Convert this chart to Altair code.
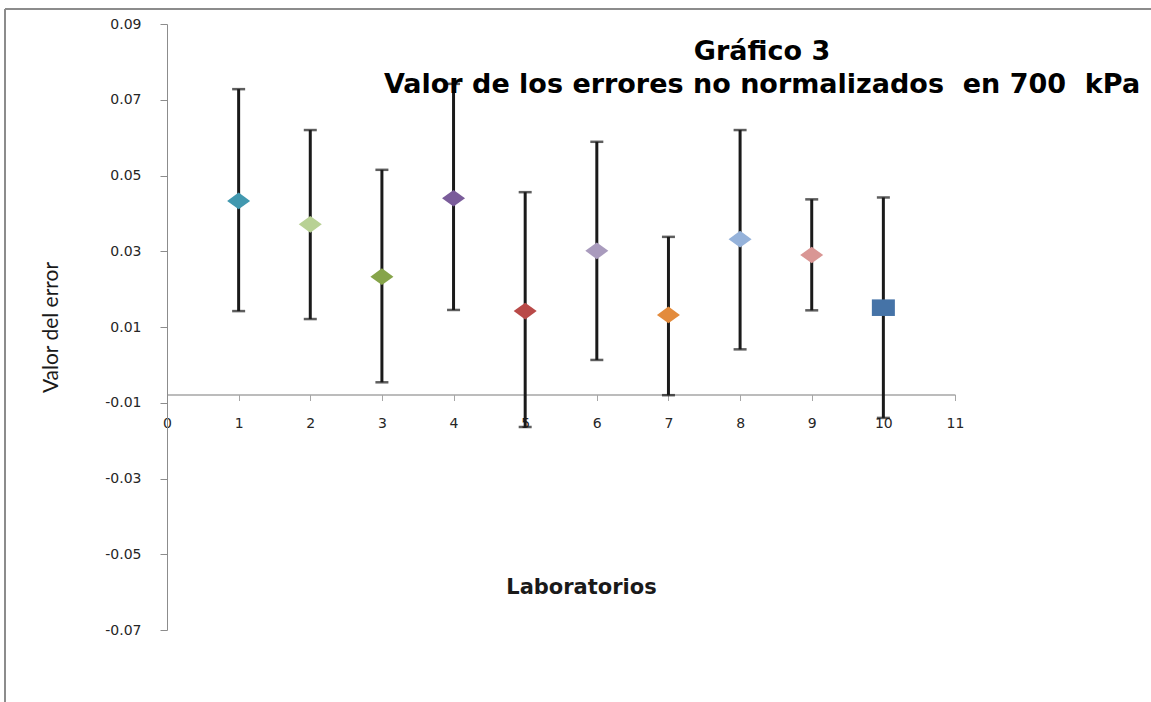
import altair as alt
import pandas as pd

laboratorios = [1, 2, 3, 4, 5, 6, 7, 8, 9, 10]
valores = [0.0433, 0.0371, 0.0233, 0.0440, 0.0142, 0.0301, 0.0132, 0.0332, 0.0290, 0.0151]
limite_sup = [0.0728, 0.0620, 0.0515, 0.0742, 0.0456, 0.0589, 0.0338, 0.0620, 0.0437, 0.0442]
limite_inf = [0.0142, 0.0121, -0.0046, 0.0145, -0.0164, 0.0013, -0.0080, 0.0041, 0.0144, -0.0140]
colores = ["#4198AF", "#B8D194", "#86A44A", "#7A5C9A", "#B94A48",
           "#A99BBD", "#E38B3C", "#95B2DA", "#D99694", "#4573A7"]
formas = ["rombo"] * 9 + ["cuadro"]

x_ticks = list(range(0, 12))
y_ticks = [-0.07, -0.05, -0.03, -0.01, 0.01, 0.03, 0.05, 0.07, 0.09]

titulo_1 = "Gráfico 3"
titulo_2 = "Valor de los errores no normalizados\u00a0 en 700\u00a0 kPa"
titulo_x = "Laboratorios"
titulo_y = "Valor del error"

df = pd.DataFrame({
    "lab": laboratorios,
    "labstr": [str(v) for v in laboratorios],
    "valor": valores,
    "sup": limite_sup,
    "inf": limite_inf,
    "forma": formas,
})

W, H = 788, 606
LEFT, TOP = 167, 24

xscale = alt.Scale(domain=[0, 11], nice=False, zero=False)
yscale = alt.Scale(domain=[-0.07, 0.09], nice=False, zero=False)

x_axis = alt.Axis(
    values=x_ticks, offset=-235.5, grid=False, labelFlush=False,
    domainColor="#a6a6a6", domainWidth=1.5, tickColor="#a6a6a6", tickSize=6,
    labelFont="DejaVu Sans", labelFontSize=14, labelColor="#262626", labelPadding=16,
    title=titulo_x, titleFont="DejaVu Sans", titleFontSize=21, titleFontWeight="bold",
    titleColor="#1a1a1a", titleX=414, titleY=193, titleBaseline="middle", titleAlign="center",
)
y_axis = alt.Axis(
    values=y_ticks, grid=False, labelFlush=False,
    domainColor="#8c8c8c", domainWidth=1, tickColor="#8c8c8c", tickSize=7,
    labelFont="DejaVu Sans", labelFontSize=14, labelColor="#262626", labelPadding=19,
    labelExpr="(datum.value < 0 ? '-' : '') + format(abs(datum.value), '.2f')",
    title=titulo_y, titleFont="Lato", titleFontSize=21, titleFontWeight="normal",
    titleColor="#1a1a1a", titleX=-116, titleY=303, titleAngle=-90,
    titleAlign="center", titleBaseline="middle",
)

base = alt.Chart(df)
X = alt.X("lab:Q", scale=xscale, axis=x_axis)

barras = base.mark_rule(color="#1a1a1a", strokeWidth=3).encode(
    x=X,
    y=alt.Y("inf:Q", scale=yscale, axis=y_axis),
    y2="sup:Q",
)
cap_sup = base.mark_tick(color="#1a1a1a", thickness=2.5, size=13, orient="horizontal").encode(
    x=X, y=alt.Y("sup:Q", scale=yscale, axis=y_axis),
)
cap_inf = base.mark_tick(color="#1a1a1a", thickness=2.5, size=13, orient="horizontal").encode(
    x=X, y=alt.Y("inf:Q", scale=yscale, axis=y_axis),
)
puntos = base.mark_point(filled=True, opacity=1, strokeWidth=0).encode(
    x=X,
    y=alt.Y("valor:Q", scale=yscale, axis=y_axis),
    color=alt.Color("labstr:N", scale=alt.Scale(domain=[str(v) for v in laboratorios], range=colores), legend=None),
    shape=alt.Shape("forma:N", scale=alt.Scale(
        domain=["rombo", "cuadro"],
        range=["M-1,0L0,-0.72L1,0L0,0.72Z", "M-1,-0.72L1,-0.72L1,0.72L-1,0.72Z"]), legend=None),
    size=alt.value(530),
)

marco_sup = alt.Chart(pd.DataFrame({"k": [0]})).mark_rule(color="#8c8c8c", strokeWidth=2).encode(
    x=alt.value(5 - LEFT), x2=alt.value(1151 - LEFT), y=alt.value(9 - TOP)
)
marco_izq = alt.Chart(pd.DataFrame({"k": [0]})).mark_rule(color="#8c8c8c", strokeWidth=2).encode(
    x=alt.value(5 - LEFT), y=alt.value(9 - TOP), y2=alt.value(702 - TOP)
)

t1 = alt.Chart(pd.DataFrame({"t": [titulo_1]})).mark_text(
    font="DejaVu Sans", fontSize=27, fontWeight="bold", color="#000000", align="center", baseline="middle"
).encode(text="t:N", x=alt.value(762 - LEFT), y=alt.value(52 - TOP))
t2 = alt.Chart(pd.DataFrame({"t": [titulo_2]})).mark_text(
    font="DejaVu Sans", fontSize=27, fontWeight="bold", color="#000000", align="center", baseline="middle"
).encode(text="t:N", x=alt.value(762 - LEFT), y=alt.value(85 - TOP))

chart = alt.layer(barras, cap_sup, cap_inf, puntos, marco_sup, marco_izq, t1, t2).properties(
    width=W, height=H,
    padding={"left": LEFT, "top": TOP, "right": 1151 - LEFT - W, "bottom": 702 - TOP - H},
    autosize="none",
    background="white",
).configure_view(stroke=None)

chart.save("out.html", embed_options={"renderer": "svg", "actions": False})
